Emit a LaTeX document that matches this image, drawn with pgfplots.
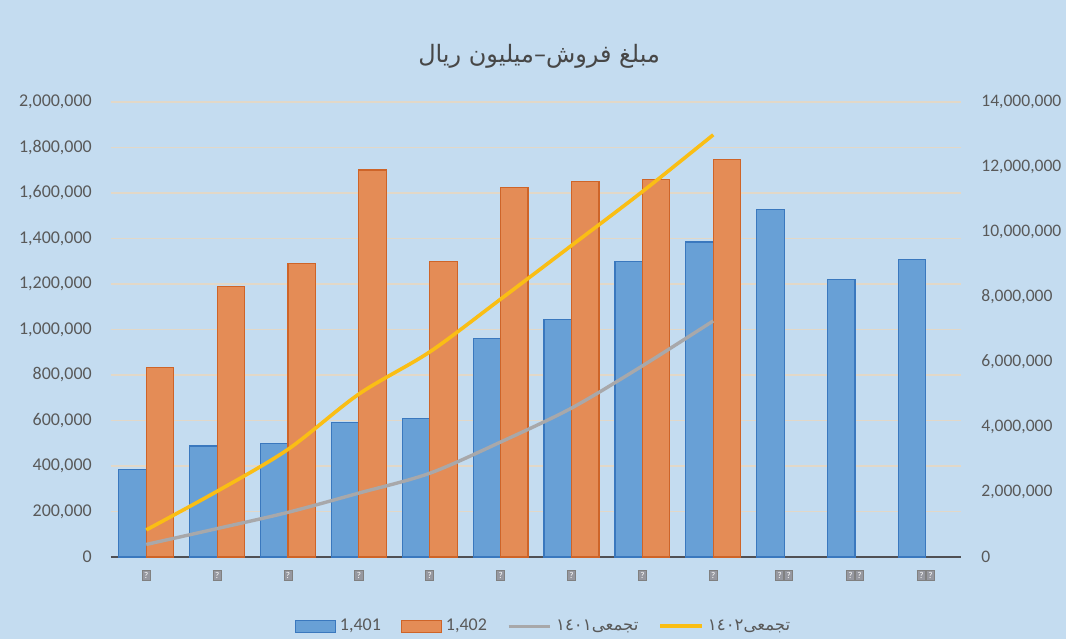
\documentclass[border=0pt]{standalone}
\usepackage{pgfplots}
\pgfplotsset{compat=1.18}
\usepackage{fontspec}
\setmainfont{Carlito}
\newfontfamily\arabicfont[Script=Arabic]{DejaVu Sans}
\TeXXeTstate=1
\definecolor{bgblue}{RGB}{196,220,240}
\definecolor{bluefill}{RGB}{104,160,214}
\definecolor{blueedge}{RGB}{58,120,190}
\definecolor{orangefill}{RGB}{228,140,86}
\definecolor{orangeedge}{RGB}{206,100,40}
\definecolor{yellowline}{RGB}{250,190,20}
\definecolor{grayline}{RGB}{168,168,170}
\definecolor{gridc}{RGB}{226,216,200}
\definecolor{textgray}{RGB}{89,89,89}
\definecolor{axisgray}{RGB}{80,80,84}
\definecolor{tofufill}{RGB}{150,152,160}
\newcommand\tofu{{\setlength\fboxsep{0.8pt}\setlength\fboxrule{0.4pt}\fcolorbox{gray}{tofufill}{\fontsize{4.5}{4.5}\selectfont\textcolor{white}{?}}}}
\pgfplotsset{
  /pgf/number format/fixed,
  /pgf/number format/1000 sep={,},
  /pgf/number format/assume math mode=true,
}
\begin{document}
\begin{tikzpicture}
\fill[bgblue] (0,0) rectangle (534pt,320pt);
\node[text=textgray!80!black, font=\arabicfont\fontsize{12}{14}\selectfont] at (270pt,292pt) {\beginR مبلغ فروش–میلیون ریال\endR};
\begin{axis}[
  at={(55.5pt,41pt)}, anchor=south west, scale only axis,
  width=426pt, height=228pt,
  xmin=0.5, xmax=12.5, ymin=0, ymax=2000000,
  ybar=0pt, bar width=13.75pt,
  xtick={1,...,12},
  xticklabels={\tofu,\tofu,\tofu,\tofu,\tofu,\tofu,\tofu,\tofu,\tofu,\tofu\tofu,\tofu\tofu,\tofu\tofu},
  ytick={0,200000,...,2000000},
  scaled y ticks=false,
  axis x line*=bottom, axis y line*=left,
  x axis line style={-, draw=axisgray, line width=1pt},
  y axis line style={-, draw=none},
  major tick length=0pt,
  ymajorgrids, grid style={gridc, line width=0.7pt},
  tick label style={text=textgray, font=\fontsize{9}{10}\selectfont},
  yticklabel style={xshift=-6pt},
  xticklabel style={yshift=-3pt},
]
\addplot[fill=bluefill, draw=blueedge, line width=0.6pt] coordinates {
  (1,386000) (2,488000) (3,500000) (4,592000) (5,610000) (6,960000)
  (7,1044000) (8,1298000) (9,1384000) (10,1526000) (11,1219000) (12,1307000)};
\addplot[fill=orangefill, draw=orangeedge, line width=0.6pt] coordinates {
  (1,833000) (2,1189000) (3,1289000) (4,1700000) (5,1297000) (6,1623000)
  (7,1649000) (8,1658000) (9,1747000)};
\end{axis}
\begin{axis}[
  at={(55.5pt,41pt)}, anchor=south west, scale only axis,
  width=426pt, height=228pt,
  xmin=0.5, xmax=12.5, ymin=0, ymax=14000000,
  axis x line=none, axis y line*=right,
  y axis line style={-, draw=none},
  ytick={0,2000000,...,14000000},
  scaled y ticks=false,
  major tick length=0pt,
  tick label style={text=textgray, font=\fontsize{8.8}{10}\selectfont},
  yticklabel style={xshift=6.5pt},
  legend columns=4,
  legend style={at={(0.51,-0.152)}, anchor=center, draw=none, fill=none,
    font=\fontsize{9}{10}\selectfont, text=textgray,
    /tikz/every even column/.append style={column sep=8pt}},
  legend cell align=left,
]
\addlegendimage{legend image code/.code={\draw[fill=bluefill,draw=blueedge,line width=0.6pt] (0pt,-3pt) rectangle (20pt,3pt);}}
\addlegendentry{1,401}
\addlegendimage{legend image code/.code={\draw[fill=orangefill,draw=orangeedge,line width=0.6pt] (0pt,-3pt) rectangle (20pt,3pt);}}
\addlegendentry{1,402}
\addplot[grayline, line width=1.7pt, smooth, mark=none,
  legend image code/.code={\draw[grayline,line width=1.7pt] (0pt,0pt) -- (21pt,0pt);}] coordinates {
  (1,386000) (2,874000) (3,1374000) (4,1966000) (5,2576000) (6,3536000)
  (7,4580000) (8,5878000) (9,7262000)};
\addlegendentry{\arabicfont\fontsize{8.3}{10}\selectfont\beginR تجمعی١٤٠١\endR}
\addplot[yellowline, line width=1.8pt, smooth, mark=none,
  legend image code/.code={\draw[yellowline,line width=1.8pt] (0pt,0pt) -- (21pt,0pt);}] coordinates {
  (1,833000) (2,2022000) (3,3311000) (4,5011000) (5,6308000) (6,7931000)
  (7,9580000) (8,11238000) (9,12985000)};
\addlegendentry{\arabicfont\fontsize{8.3}{10}\selectfont\beginR تجمعی١٤٠٢\endR}
\end{axis}
\end{tikzpicture}
\end{document}
